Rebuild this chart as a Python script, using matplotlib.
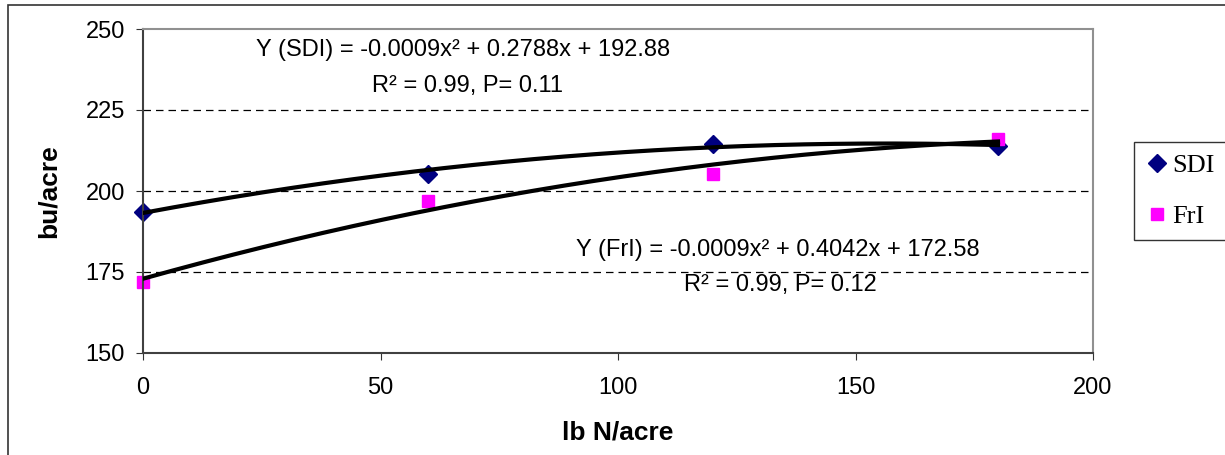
import numpy as np
import matplotlib.pyplot as plt
from matplotlib.patches import Rectangle

# 数据
n_rate = [0, 60, 120, 180]
sdi = [193.6, 205.4, 214.6, 213.8]
fri = [172.0, 196.8, 205.4, 216.2]

eq_sdi = "Y (SDI) = -0.0009x² + 0.2788x + 192.88"
r2_sdi = "R² = 0.99, P= 0.11"
eq_fri = "Y (FrI) = -0.0009x² + 0.4042x + 172.58"
r2_fri = "R² = 0.99, P= 0.12"

plt.rcParams['font.family'] = ['Liberation Sans', 'DejaVu Sans']

fig = plt.figure(figsize=(12.25, 4.55), dpi=100)
ax = fig.add_axes([143 / 1225, 1 - 353 / 455, 950 / 1225, 324 / 455])

# 外框（只看得到左边和上边）
fig.patches.append(Rectangle((8 / 1225, -0.1), 1.2, 1 - 5 / 455 + 0.1,
                             transform=fig.transFigure, fill=False,
                             edgecolor='#333333', linewidth=1.2))

# 网格线
for yv in [175, 200, 225]:
    ax.axhline(yv, color='black', lw=0.9, ls=(0, (6, 4)), zorder=1)

# 数据点
ax.plot(n_rate, sdi, ls='none', marker='D', color='#000080', ms=9, label='SDI',
        zorder=2, clip_on=False)
ax.plot(n_rate, fri, ls='none', marker='s', color='#FF00FF', ms=9, label='FrI',
        zorder=2, clip_on=False)

# 二次趋势线
xx = np.linspace(0, 180, 200)
for ys in [sdi, fri]:
    c = np.polyfit(n_rate, ys, 2)
    ax.plot(xx, np.polyval(c, xx), color='black', lw=3, zorder=3)

ax.set_xlim(0, 200)
ax.set_ylim(150, 250)
ax.set_xticks([0, 50, 100, 150, 200])
ax.set_yticks([150, 175, 200, 225, 250])
ax.tick_params(axis='both', labelsize=17, length=5, color='#333333')
ax.tick_params(axis='x', pad=12)
ax.tick_params(axis='y', pad=8)

for s in ['left', 'bottom']:
    ax.spines[s].set_color('#404040')
    ax.spines[s].set_linewidth(1.5)
for s in ['top', 'right']:
    ax.spines[s].set_color('#909090')
    ax.spines[s].set_linewidth(1.5)

ax.set_xlabel('lb N/acre', fontsize=19, fontweight='bold', labelpad=16)
ax.set_ylabel('bu/acre', fontsize=19, fontweight='bold', labelpad=18)

# 方程文字
ax.text(67.4, 243.5, eq_sdi, fontsize=17, ha='center', va='center')
ax.text(68.4, 232.4, r2_sdi, fontsize=17, ha='center', va='center')
ax.text(133.7, 181.7, eq_fri, fontsize=17, ha='center', va='center')
ax.text(134.1, 170.9, r2_fri, fontsize=17, ha='center', va='center')

leg = fig.legend(loc='center', bbox_to_anchor=(1180 / 1225, 1 - 191 / 455),
                 prop={'family': 'Liberation Serif', 'size': 19},
                 frameon=True, fancybox=False, handletextpad=0.1,
                 handlelength=0.9, borderpad=0.45, labelspacing=1.05,
                 borderaxespad=0)
leg.get_frame().set_edgecolor('black')
leg.get_frame().set_linewidth(1)

fig.savefig('out.png', dpi=100)
